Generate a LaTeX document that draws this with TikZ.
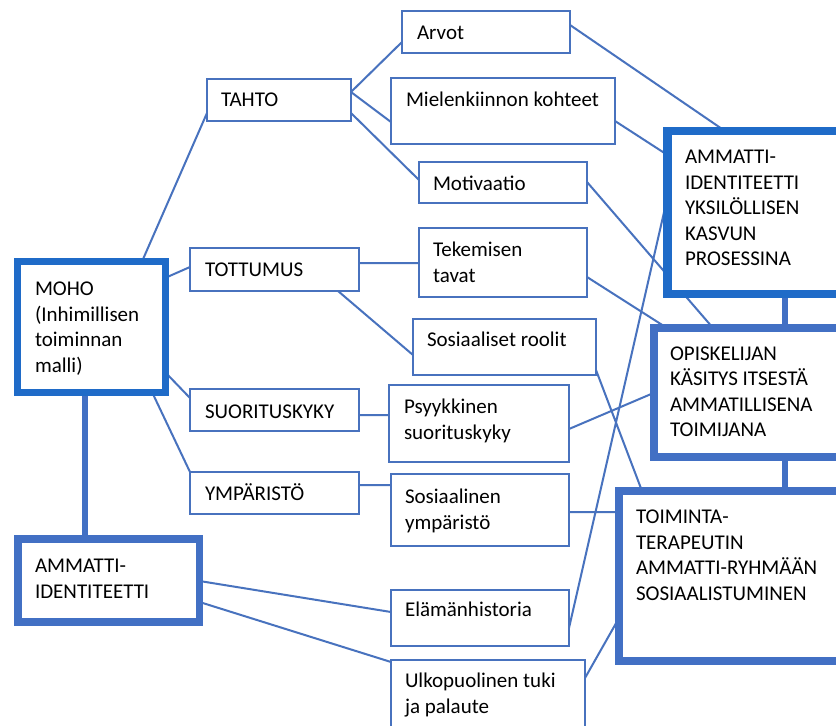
\documentclass[tikz,border=0pt]{standalone}
\usepackage{fontspec}
\setmainfont{Carlito}
\usetikzlibrary{backgrounds}
\definecolor{thinblue}{RGB}{72,114,190}
\definecolor{brightblue}{RGB}{31,107,200}
\definecolor{midblue}{RGB}{66,112,196}
\newcommand\mystrut{\rule{0pt}{18pt}}
\begin{document}
\begin{tikzpicture}[x=1pt,y=-1pt,
  thinbox/.style={draw=thinblue,line width=2pt,fill=white,anchor=north west,inner sep=0pt,outer sep=0pt},
  thickbright/.style={draw=brightblue,line width=8pt,fill=white,anchor=north west,inner sep=0pt,outer sep=0pt},
  thickmid/.style={draw=midblue,line width=8pt,fill=white,anchor=north west,inner sep=0pt,outer sep=0pt},
  lbl/.style={anchor=north west,inner sep=0pt,outer sep=0pt,align=left,text=black,font=\fontsize{21}{25.5}\selectfont},
  conn/.style={draw=thinblue,line width=2pt},
  bar/.style={draw=midblue,line width=5.5pt}]
\useasboundingbox (0,0) rectangle (836,726);
\clip (0,0) rectangle (836,726);

% ---- boxes ----
\path
  (207,79)  node[thinbox,minimum width=144pt,minimum height=42pt] (tahto) {}
  (402,11)  node[thinbox,minimum width=168pt,minimum height=42pt] (arvot) {}
  (391,78)  node[thinbox,minimum width=224pt,minimum height=66pt] (miel) {}
  (419,162) node[thinbox,minimum width=168pt,minimum height=41pt] (motiv) {}
  (190,248) node[thinbox,minimum width=169pt,minimum height=43pt] (tottu) {}
  (419,228) node[thinbox,minimum width=168pt,minimum height=69pt] (tekem) {}
  (413,319) node[thinbox,minimum width=183pt,minimum height=56pt] (sosrool) {}
  (190,389) node[thinbox,minimum width=169pt,minimum height=42pt] (suori) {}
  (389,385) node[thinbox,minimum width=180pt,minimum height=77pt] (psyyk) {}
  (190,472) node[thinbox,minimum width=169pt,minimum height=42pt] (ympar) {}
  (391,474) node[thinbox,minimum width=178pt,minimum height=72pt] (sosymp) {}
  (391,590) node[thinbox,minimum width=178pt,minimum height=56pt] (elam) {}
  (391,660) node[thinbox,minimum width=194pt,minimum height=80pt] (ulko) {}
  (17.5,261.5) node[thickbright,line width=7pt,minimum width=147.5pt,minimum height=130.5pt] (moho) {}
  (667.5,131) node[thickbright,line width=8.5pt,minimum width=182.5pt,minimum height=163pt] (ammid) {}
  (653.5,328) node[thickmid,minimum width=196.5pt,minimum height=128.5pt] (opisk) {}
  (619,491) node[thickmid,minimum width=231pt,minimum height=170pt] (toim) {}
  (18,539) node[thickmid,line width=7.5pt,minimum width=181.5pt,minimum height=83pt] (amml) {};

% ---- connectors, behind the boxes ----
\begin{pgfonlayer}{background}
\fill[white] (0,0) rectangle (836,726);
\path[conn]
  ([xshift=124.5pt]moho.north west) -- ([yshift=8pt]tahto.south west)
  ([yshift=-16.5pt]moho.north east) -- ([yshift=-19pt]tottu.north west)
  ([yshift=20pt]moho.south east) -- ([yshift=-9pt]suori.north west)
  ([xshift=-13pt]moho.south east) -- (ympar.north west)
  ([yshift=-13pt]tahto.north east) -- ([yshift=11pt]arvot.south west)
  ([yshift=-13pt]tahto.north east) -- ([yshift=22pt]miel.south west)
  ([yshift=8pt]tahto.south east) -- ([yshift=-18pt]motiv.north west)
  ([yshift=-14pt]arvot.north east) -- ([xshift=57.5pt]ammid.north west)
  ([yshift=23pt]miel.south east) -- ([yshift=-24pt]ammid.north west)
  ([yshift=-20pt]motiv.north east) -- ([xshift=59.5pt]opisk.north west)
  ([yshift=18pt]elam.south east) -- ([yshift=-66pt]ammid.north west)
  ([yshift=-15pt]tottu.north east) -- ([yshift=-35pt]tekem.north west)
  ([xshift=-21pt]tottu.south east) -- ([yshift=-36pt]sosrool.north west)
  ([yshift=20pt]tekem.south east) -- ([xshift=13.5pt]opisk.north west)
  ([yshift=5pt]sosrool.south east) -- ([xshift=23pt]toim.north west)
  ([yshift=-26pt]suori.north east) -- ([yshift=-30pt]psyyk.north west)
  ([yshift=33pt]psyyk.south east) -- ([yshift=-65pt]opisk.north west)
  ([yshift=-13pt]ympar.north east) -- ([yshift=-11pt]sosymp.north west)
  ([yshift=34pt]sosymp.south east) -- ([yshift=-21pt]toim.north west)
  ([yshift=-42pt]amml.north east) -- ([yshift=-22pt]elam.north west)
  ([yshift=-63pt]amml.north east) -- ([yshift=-2pt]ulko.north west)
  ([yshift=-18pt]ulko.north east) -- ([yshift=-127pt]toim.north west);
\path[bar]
  ([xshift=67.5pt]moho.south west) -- ([xshift=67pt]amml.north west)
  ([xshift=117.5pt]ammid.south west) -- ([xshift=131.5pt]opisk.north west)
  ([xshift=131.5pt]opisk.south west) -- ([xshift=166pt]toim.north west);
\end{pgfonlayer}

% ---- texts ----
\node[lbl] (tahtoT)   at (221,88.5)  {\mystrut TAHTO};
\node[lbl] (arvotT)   at (417,21.5)  {\mystrut Arvot};
\node[lbl] (mielT)    at (406,88.5)  {\mystrut Mielenkiinnon kohteet};
\node[lbl] (motivT)   at (433,172.5) {\mystrut Motivaatio};
\node[lbl] (tekemT)   at (433,238.5) {\mystrut Tekemisen\\tavat};
\node[lbl] (sosroolT) at (427,328.5) {\mystrut Sosiaaliset roolit};
\node[lbl] (psyykT)   at (404,395.5) {\mystrut Psyykkinen\\suorituskyky};
\node[lbl] (sosympT)  at (405,485.5) {\mystrut Sosiaalinen\\ympäristö};
\node[lbl] (elamT)    at (405,598.5) {\mystrut Elämänhistoria};
\node[lbl] (ulkoT)    at (405,669.5) {\mystrut Ulkopuolinen tuki\\ja palaute};
\node[lbl] (tottuT)   at (205,258.5) {\mystrut TOTTUMUS};
\node[lbl] (suoriT)   at (205,400.5) {\mystrut SUORITUSKYKY};
\node[lbl] (ymparT)   at (205,482.5) {\mystrut YMPÄRISTÖ};
\node[lbl] (mohoT)    at (35,277.5)  {\mystrut MOHO\\(Inhimillisen\\toiminnan\\malli)};
\node[lbl] (ammlT)    at (35,554.5)  {\mystrut AMMATTI-\\IDENTITEETTI};
\node[lbl] (ammidT)   at (685,145.5) {\mystrut AMMATTI-\\IDENTITEETTI\\YKSILÖLLISEN\\KASVUN\\PROSESSINA};
\node[lbl] (opiskT)   at (670,342)   {\mystrut OPISKELIJAN\\KÄSITYS ITSESTÄ\\AMMATILLISENA\\TOIMIJANA};
\node[lbl] (toimT)    at (636,505.5) {\mystrut TOIMINTA-\\TERAPEUTIN\\AMMATTI-RYHMÄÄN\\SOSIAALISTUMINEN};
\end{tikzpicture}
\end{document}
